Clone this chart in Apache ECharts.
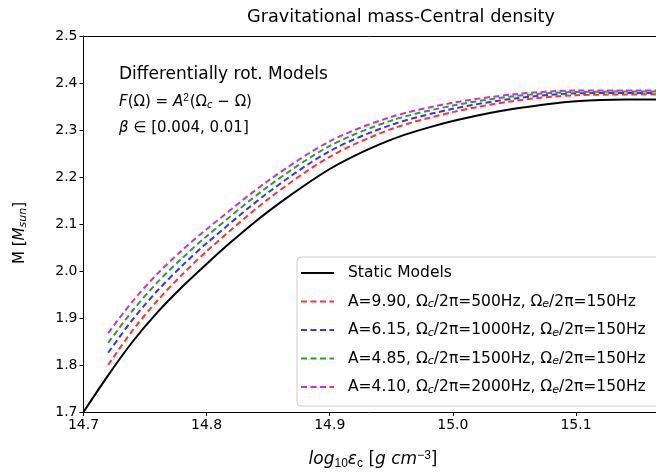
<!DOCTYPE html>
<html>
<head>
<meta charset="utf-8">
<script src="https://cdn.jsdelivr.net/npm/echarts@6/dist/echarts.min.js"></script>
<style>html,body{margin:0;padding:0;background:#fff}#c{width:656px;height:475px}</style>
</head>
<body>
<div id="c"></div>
<script>
// Static models
const xStatic = [14.70, 14.72, 14.74, 14.76, 14.78, 14.80, 14.82, 14.84, 14.86, 14.88, 14.90, 14.92, 14.94, 14.96, 14.98, 15.00, 15.02, 15.04, 15.06, 15.08, 15.10, 15.12, 15.14, 15.17];
const mStatic = [1.700, 1.778, 1.850, 1.912, 1.966, 2.015, 2.062, 2.106, 2.146, 2.183, 2.217, 2.245, 2.269, 2.289, 2.305, 2.319, 2.331, 2.341, 2.349, 2.356, 2.361, 2.364, 2.365, 2.365];
// Differentially rotating models
const xRot = [14.72, 14.74, 14.76, 14.78, 14.80, 14.85, 14.90, 14.95, 15.00, 15.05, 15.10, 15.17];
const mRed = [1.800, 1.874, 1.937, 1.992, 2.042, 2.153, 2.243, 2.302, 2.338, 2.362, 2.374, 2.376];
const mBlue = [1.826, 1.897, 1.958, 2.011, 2.059, 2.167, 2.255, 2.311, 2.345, 2.367, 2.378, 2.379];
const mGreen = [1.847, 1.916, 1.976, 2.027, 2.074, 2.180, 2.266, 2.320, 2.352, 2.372, 2.381, 2.382];
const mMagenta = [1.868, 1.936, 1.994, 2.044, 2.089, 2.192, 2.276, 2.328, 2.358, 2.376, 2.384, 2.384];
const seriesNames = ['Static Models',
  'A=9.90, Ωc/2π=500Hz, Ωe/2π=150Hz',
  'A=6.15, Ωc/2π=1000Hz, Ωe/2π=150Hz',
  'A=4.85, Ωc/2π=1500Hz, Ωe/2π=150Hz',
  'A=4.10, Ωc/2π=2000Hz, Ωe/2π=150Hz'];
const yTicks = [1.7, 2.5, 0.1];
const xTicks = [14.7, 15.165, 0.1];

const pairs = (xs, ys) => xs.map((x, i) => [x, ys[i]]);
const F = 'DejaVu Sans';
const chart = echarts.init(document.getElementById('c'), null, {renderer: 'canvas'});
const dashed = (name, data, color) => ({
  name, type: 'line', data: pairs(xRot, data), smooth: 0.3, symbol: 'none',
  lineStyle: {color, width: 2, type: [6, 3.5]}, itemStyle: {color}
});
chart.setOption({
  animation: false,
  grid: {left: 83.5, right: -2, top: 36, bottom: 63, show: false},
  graphic: [
    {type: 'text', x: 401, y: 17, style: {text: 'Gravitational mass-Central density', font: '17.7px ' + F, fill: '#000', align: 'center', verticalAlign: 'middle'}},
    {type: 'text', x: 119, y: 75, style: {text: 'Differentially rot. Models', font: '17px ' + F, fill: '#000', verticalAlign: 'middle'}},
    {type: 'text', x: 119, y: 102, style: {
      text: '{i|F}(Ω) = {i|A}{sup|2}(Ω{sub|c} − Ω)', font: '15px ' + F, fill: '#000', verticalAlign: 'middle',
      rich: {i: {fontFamily: F, fontStyle: 'italic', fontSize: 15}, sup: {fontSize: 10, padding: [0, 1, 7, 0]}, sub: {fontFamily: F, fontStyle: 'italic', fontSize: 10, padding: [7, 0, 0, 0]}}
    }},
    {type: 'text', x: 119, y: 128, style: {
      text: '{i|β} ∈ [0.004, 0.01]', font: '15px ' + F, fill: '#000', verticalAlign: 'middle',
      rich: {i: {fontFamily: F, fontStyle: 'italic', fontSize: 15}}
    }},
    {type: 'text', x: 373, y: 460, style: {
      text: '{i|log}{sub|10}{i|ε}{sub|c} [{i|g cm}{sup|−3}]', font: '17px ' + F, fill: '#000', align: 'center', verticalAlign: 'middle',
      rich: {i: {fontFamily: F, fontStyle: 'italic', fontSize: 17}, sub: {fontSize: 12, padding: [8, 0, 0, 0]}, sup: {fontSize: 12, padding: [0, 0, 9, 0]}}
    }},
    {type: 'text', x: 20, y: 233, rotation: Math.PI / 2, style: {
      text: 'M [{i|M}{sub|sun}]', font: '15px ' + F, fill: '#000', align: 'center', verticalAlign: 'middle',
      rich: {i: {fontFamily: F, fontStyle: 'italic', fontSize: 15}, sub: {fontFamily: F, fontStyle: 'italic', fontSize: 11, padding: [7, 0, 0, 0]}}
    }}
  ],
  legend: {
    orient: 'vertical', left: 297, top: 257, itemWidth: 33, itemHeight: 10, itemGap: 8.5,
    padding: [6, 40, 9, 3], backgroundColor: '#fff', borderColor: '#ccc', borderWidth: 1, borderRadius: 4,
    itemStyle: {opacity: 0, borderWidth: 0},
    data: seriesNames,
    formatter: n => n.replace(/Ω([ce])/g, 'Ω{sub|$1}'),
    textStyle: {fontFamily: F, fontSize: 15.5, lineHeight: 20, color: '#000', padding: [0, 0, 0, 9],
      rich: {sub: {fontFamily: F, fontStyle: 'italic', fontSize: 11, padding: [6, 0, 0, 0]}}}
  },
  xAxis: [{
    type: 'value', min: xTicks[0], max: xTicks[1], interval: xTicks[2],
    axisLine: {onZero: false, lineStyle: {color: '#000', width: 1}},
    axisTick: {length: 4, lineStyle: {color: '#000'}},
    axisLabel: {fontFamily: F, fontSize: 14, color: '#000', margin: 6, showMaxLabel: false, formatter: v => v.toFixed(1)},
    splitLine: {show: false}
  }, {
    type: 'value', position: 'top', min: xTicks[0], max: xTicks[1], interval: xTicks[2],
    axisLine: {show: true, onZero: false, lineStyle: {color: '#000', width: 1}},
    axisTick: {show: false}, axisLabel: {show: false}, splitLine: {show: false}
  }],
  yAxis: {
    type: 'value', min: yTicks[0], max: yTicks[1], interval: yTicks[2],
    axisLine: {show: true, onZero: false, lineStyle: {color: '#000', width: 1}},
    axisTick: {show: true, length: 4, lineStyle: {color: '#000'}},
    axisLabel: {fontFamily: F, fontSize: 14, color: '#000', margin: 6, formatter: v => v.toFixed(1)},
    splitLine: {show: false}
  },
  series: [
    {name: seriesNames[0], type: 'line', data: pairs(xStatic, mStatic), smooth: 0.3, symbol: 'none',
     lineStyle: {color: '#000', width: 2}, itemStyle: {color: '#000'}, z: 1},
    dashed(seriesNames[1], mRed, '#ff3333'),
    dashed(seriesNames[2], mBlue, '#3333ff'),
    dashed(seriesNames[3], mGreen, '#339933'),
    dashed(seriesNames[4], mMagenta, '#cc33cc')
  ]
});
</script>
</body>
</html>
